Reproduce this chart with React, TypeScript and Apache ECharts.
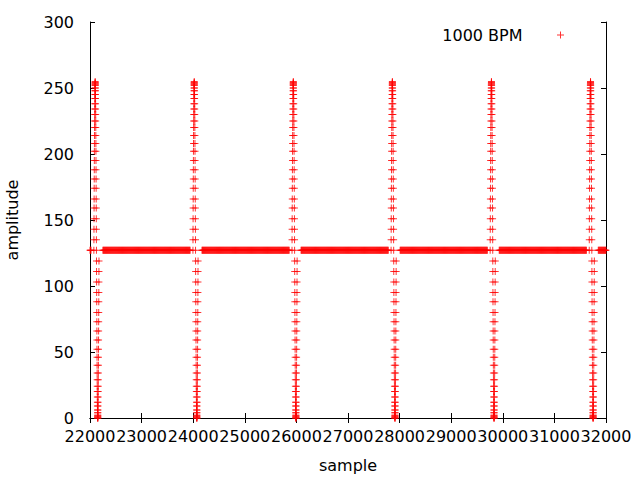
import React, { useEffect, useRef } from "react";
import * as echarts from "echarts";

// Axis ranges and tick steps
const X_MIN = 22000;
const X_MAX = 32000;
const X_STEP = 1000;
const Y_MIN = 0;
const Y_MAX = 300;
const Y_STEP = 50;

const seriesName = "1000 BPM";
const xName = "sample";
const yName = "amplitude";

// Sample index where each click burst begins
const burstStarts = [22075, 23995, 25915, 27835, 29755, 31675];

// One click burst: amplitude of each successive sample
const burstValues = [
  127, 135, 143, 151, 159, 166, 174, 181, 188, 195,
  202, 208, 214, 220, 225, 230, 234, 238, 242, 245,
  248, 250, 252, 253, 254, 255, 254, 253, 252, 250,
  248, 245, 242, 238, 234, 230, 225, 220, 214, 208,
  202, 195, 188, 181, 174, 166, 159, 151, 143, 135,
  127, 119, 111, 103, 95, 88, 80, 73, 66, 59,
  52, 46, 40, 34, 29, 24, 20, 16, 12, 9,
  6, 4, 2, 1, 0, 0, 0, 1, 2, 4,
  6, 9, 12, 16, 20, 24, 29, 34, 40, 46,
  52, 59, 66, 73, 80, 88, 95, 103, 111, 119,
];

// Silent level between clicks, and the silent-free stretch around each click (samples)
const silenceValue = 127;
const quietBefore = 55;
const quietAfter = 170;
const silenceSampleStep = 10;

const PLUS = "path://M3,0 L4,0 L4,3 L7,3 L7,4 L4,4 L4,7 L3,7 L3,4 L0,4 L0,3 L3,3 Z";
const FONT = "DejaVu Sans";

function buildPoints(): number[][] {
  const pts: number[][] = [];
  for (let s = X_MIN; s <= X_MAX; s += silenceSampleStep) {
    const inBurst = burstStarts.some((b) => s > b - quietBefore && s < b + quietAfter);
    if (!inBurst) pts.push([s, silenceValue]);
  }
  burstStarts.forEach((b) => {
    burstValues.forEach((v, k) => pts.push([b + k, v]));
  });
  return pts;
}

export default function App() {
  const ref = useRef<HTMLDivElement>(null);
  useEffect(() => {
    if (!ref.current) return;
    const chart = echarts.init(ref.current, undefined, { renderer: "svg" });
    const axisLine = { show: true, lineStyle: { color: "#000", width: 1 } };
    const axisTick = { show: true, inside: true, length: 5, lineStyle: { color: "#000", width: 1 } };
    const labelStyle = { color: "#000", fontSize: 16, fontFamily: FONT };
    chart.setOption({
      animation: false,
      backgroundColor: "#fff",
      grid: { left: 90, right: 34, top: 22, bottom: 62, containLabel: false, outerBoundsMode: "none" },
      legend: {
        show: true,
        top: 22,
        right: 71,
        align: "right",
        itemWidth: 66,
        itemHeight: 7,
        selectedMode: false,
        textStyle: labelStyle,
        data: [{ name: seriesName, icon: PLUS }],
      },
      xAxis: [
        {
          type: "value",
          position: "bottom",
          min: X_MIN,
          max: X_MAX,
          interval: X_STEP,
          axisLine,
          axisTick,
          splitLine: { show: false },
          axisLabel: { ...labelStyle, margin: 10, formatter: (v: number) => String(v) },
          name: xName,
          nameLocation: "middle",
          nameGap: 39,
          nameTextStyle: labelStyle,
        },
        {
          type: "value",
          position: "top",
          min: X_MIN,
          max: X_MAX,
          interval: X_STEP,
          axisLine,
          axisTick,
          splitLine: { show: false },
          axisLabel: { show: false },
        },
      ],
      yAxis: [
        {
          type: "value",
          position: "left",
          min: Y_MIN,
          max: Y_MAX,
          interval: Y_STEP,
          axisLine,
          axisTick,
          splitLine: { show: false },
          axisLabel: { ...labelStyle, margin: 16, formatter: (v: number) => String(v) },
          name: yName,
          nameLocation: "middle",
          nameRotate: 90,
          nameGap: 70,
          nameTextStyle: labelStyle,
        },
        {
          type: "value",
          position: "right",
          min: Y_MIN,
          max: Y_MAX,
          interval: Y_STEP,
          axisLine,
          axisTick,
          splitLine: { show: false },
          axisLabel: { show: false },
        },
      ],
      series: [
        {
          name: seriesName,
          type: "scatter",
          xAxisIndex: 0,
          yAxisIndex: 0,
          symbol: PLUS,
          symbolSize: 7,
          itemStyle: { color: "#ff0000" },
          clip: false,
          large: false,
          progressive: 0,
          emphasis: { disabled: true },
          data: buildPoints(),
        },
      ],
    });
    return () => chart.dispose();
  }, []);
  return (
    <div
      ref={ref}
      style={{ position: "fixed", left: 0, top: 0, width: 640, height: 480, background: "#fff" }}
    />
  );
}
